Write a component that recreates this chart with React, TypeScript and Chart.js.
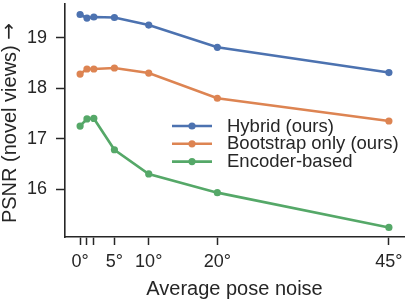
import React, { useEffect, useRef } from "react";
import { Chart, registerables } from "chart.js";

Chart.register(...registerables);

const noiseLevels = [0, 1, 2, 5, 10, 20, 45];
const labeledNoise = [0, 5, 10, 20, 45];
const yTickValues = [16, 17, 18, 19];
const seriesNames = ["Hybrid (ours)", "Bootstrap only (ours)", "Encoder-based"];
const hybrid = [19.46, 19.39, 19.41, 19.4, 19.25, 18.81, 18.31];
const bootstrap = [18.28, 18.38, 18.38, 18.4, 18.3, 17.8, 17.35];
const encoder = [17.25, 17.39, 17.4, 16.78, 16.3, 15.93, 15.24];
const seriesColors = ["#4C72B0", "#DD8452", "#55A868"];
const yTitleText = "PSNR (novel views) ";
const yTitleArrow = "→";

const TEXT = "#262626";
const FONT = "'Liberation Sans', Arial, sans-serif";

const legendPlugin = {
  id: "innerLegend",
  afterDraw(chart: any) {
    const ctx = chart.ctx;
    const ds = chart.data.datasets;
    const rows = [126, 143.8, 161.6];
    ctx.save();
    ds.forEach((d: any, i: number) => {
      const y = rows[i];
      ctx.strokeStyle = d.borderColor;
      ctx.lineWidth = 2.6;
      ctx.beginPath();
      ctx.moveTo(172, y);
      ctx.lineTo(212, y);
      ctx.stroke();
      ctx.fillStyle = d.borderColor;
      ctx.beginPath();
      ctx.arc(192, y, 3.6, 0, Math.PI * 2);
      ctx.fill();
      ctx.fillStyle = TEXT;
      ctx.font = `18.5px ${FONT}`;
      ctx.textBaseline = "middle";
      ctx.textAlign = "left";
      ctx.fillText(d.label, 227, y + 0.5);
    });
    const f1 = `20px ${FONT}`;
    const f2 = `20px 'DejaVu Sans', sans-serif`;
    ctx.font = f1;
    const w1 = ctx.measureText(yTitleText).width;
    ctx.font = f2;
    const w2 = ctx.measureText(yTitleArrow).width;
    const total = w1 + w2;
    const cy = 123;
    ctx.translate(10, cy);
    ctx.rotate(-Math.PI / 2);
    ctx.fillStyle = TEXT;
    ctx.textBaseline = "middle";
    ctx.textAlign = "left";
    ctx.font = f1;
    ctx.fillText(yTitleText, -total / 2, 0);
    ctx.font = f2;
    ctx.fillText(yTitleArrow, -total / 2 + w1, 0);
    ctx.restore();
  },
};

export default function App() {
  const ref = useRef<HTMLCanvasElement | null>(null);
  useEffect(() => {
    if (!ref.current) return;
    const data = [hybrid, bootstrap, encoder];
    const chart = new Chart(ref.current, {
      type: "line",
      data: {
        datasets: data.map((vals, i) => ({
          label: seriesNames[i],
          data: noiseLevels.map((x, j) => ({ x, y: vals[j] })),
          borderColor: seriesColors[i],
          backgroundColor: seriesColors[i],
          borderWidth: 2.6,
          pointRadius: 3.6,
          pointBorderWidth: 0,
          pointBackgroundColor: seriesColors[i],
          tension: 0,
        })),
      },
      options: {
        animation: false,
        responsive: false,
        devicePixelRatio: 1,
        layout: { padding: 0 },
        plugins: { legend: { display: false }, tooltip: { enabled: false } },
        scales: {
          x: {
            type: "linear",
            min: -2.2,
            max: 47.2,
            afterBuildTicks: (s: any) => {
              s.ticks = noiseLevels.map((v) => ({ value: v }));
            },
            afterFit: (s: any) => {
              s.height = 62;
              s.paddingLeft = 0;
              s.paddingRight = 0;
            },
            ticks: {
              autoSkip: false,
              maxRotation: 0,
              padding: 6,
              color: TEXT,
              font: { family: FONT, size: 18 },
              callback: (v: any) => (labeledNoise.includes(Number(v)) ? `${v}°` : ""),
            },
            grid: {
              drawOnChartArea: false,
              drawTicks: true,
              tickLength: 8,
              tickColor: TEXT,
              tickWidth: 1.5,
            },
            border: { display: true, color: TEXT, width: 1.6 },
            title: {
              display: true,
              text: "Average pose noise",
              color: TEXT,
              font: { family: FONT, size: 20, lineHeight: 1 },
              padding: 0,
            },
          },
          y: {
            type: "linear",
            min: 15.051,
            max: 19.668,
            afterBuildTicks: (s: any) => {
              s.ticks = yTickValues.map((v) => ({ value: v }));
            },
            afterFit: (s: any) => {
              s.width = 65;
              s.paddingTop = 0;
              s.paddingBottom = 0;
            },
            ticks: {
              padding: 9,
              color: TEXT,
              font: { family: FONT, size: 18 },
            },
            grid: {
              drawOnChartArea: false,
              drawTicks: true,
              tickLength: 9,
              tickColor: TEXT,
              tickWidth: 1.5,
            },
            border: { display: true, color: TEXT, width: 1.6 },
            title: { display: false },
          },
        },
      },
      plugins: [legendPlugin],
    });
    return () => chart.destroy();
  }, []);
  return (
    <div style={{ position: "absolute", left: 0, top: 0, width: 408, height: 299, background: "#fff" }}>
      <canvas ref={ref} width={408} height={299} style={{ display: "block" }} />
    </div>
  );
}
